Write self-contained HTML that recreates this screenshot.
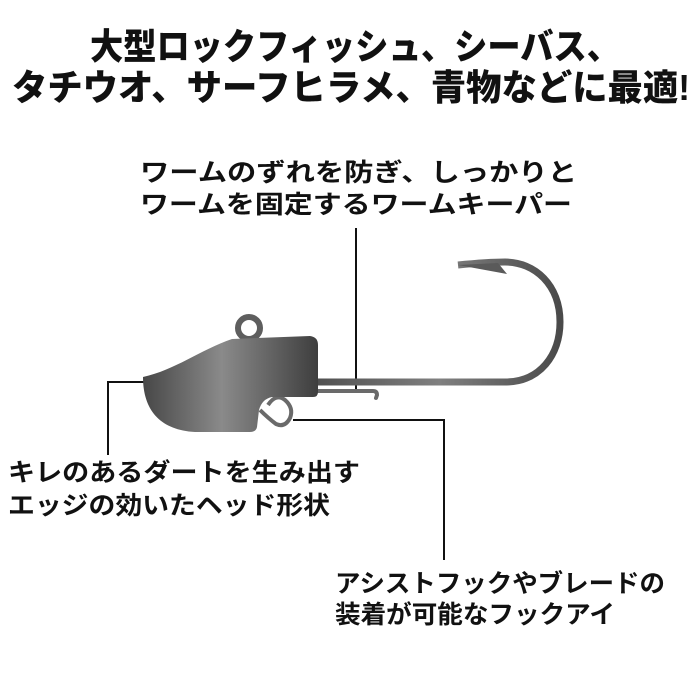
<!DOCTYPE html>
<html><head><meta charset="utf-8"><style>
html,body{margin:0;padding:0;background:#fff;}
svg{display:block;}
text{font-family:"Liberation Sans","Noto Sans CJK JP",sans-serif;fill:#111;}
</style></head><body>
<svg width="700" height="700" viewBox="0 0 700 700" xmlns="http://www.w3.org/2000/svg">
<defs>
<linearGradient id="g" x1="0" x2="1" y1="0" y2="0">
<stop offset="0" stop-color="#474747"/><stop offset="0.45" stop-color="#8a8a8a"/><stop offset="1" stop-color="#3e3e3e"/>
</linearGradient>
<linearGradient id="h" x1="0" x2="1" y1="0" y2="0">
<stop offset="0" stop-color="#505050"/><stop offset="0.5" stop-color="#808080"/><stop offset="1" stop-color="#4a4a4a"/>
</linearGradient>
</defs>
<text x="90" y="59" font-size="36" font-weight="900" textLength="530" lengthAdjust="spacingAndGlyphs">大型ロックフィッシュ、シーバス、</text>
<text x="12" y="100" font-size="36" font-weight="900" textLength="678" lengthAdjust="spacingAndGlyphs">タチウオ、サーフヒラメ、青物などに最適!</text>
<text x="140" y="181" font-size="25" font-weight="700" textLength="437" lengthAdjust="spacingAndGlyphs">ワームのずれを防ぎ、しっかりと</text>
<text x="140" y="213" font-size="25" font-weight="700" textLength="432" lengthAdjust="spacingAndGlyphs">ワームを固定するワームキーパー</text>
<text x="8" y="481" font-size="25" font-weight="700" textLength="352" lengthAdjust="spacingAndGlyphs">キレのあるダートを生み出す</text>
<text x="8" y="514" font-size="25" font-weight="700" textLength="322" lengthAdjust="spacingAndGlyphs">エッジの効いたヘッド形状</text>
<text x="335" y="592" font-size="25" font-weight="700" textLength="330" lengthAdjust="spacingAndGlyphs">アシストフックやブレードの</text>
<text x="335" y="623" font-size="25" font-weight="700" textLength="280" lengthAdjust="spacingAndGlyphs">装着が可能なフックアイ</text>

<path d="M356,228 L356,391" stroke="#111" stroke-width="2" fill="none"/>
<path d="M146,382 L108,382 L108,455" stroke="#111" stroke-width="2" fill="none"/>
<path d="M293,420 L444,420 L444,560" stroke="#111" stroke-width="2" fill="none"/>

<path d="M318,382 L505,382 C540,382 560,355 560,322 C560,285 535,262 505,262 C490,262 478,263 458,265" stroke="url(#h)" stroke-width="7" fill="none"/>
<path d="M458,265 L507,274 L498,263 Z" fill="#5a5a5a"/>
<path d="M318,391 L373,391 Q377,391 377,395 L376,398" stroke="#6a6a6a" stroke-width="4" fill="none" stroke-linecap="round"/>
<circle cx="249" cy="328" r="11" stroke="#5e5e5e" stroke-width="6" fill="none"/>
<path d="M268,405 Q276,393 285,400 Q294,408 290,418 Q285,428 276,424 Q268,418 260,410" stroke="#6a6a6a" stroke-width="4" fill="none"/>
<path d="M143,377 C175,370 200,350 232,339 L310,336 Q318,337 318,345 L318,392 Q318,397 313,397 L272,397 Q262,399 259,410 L257,427 Q256,432 250,432 L195,432 C160,430 143,410 143,377 Z" fill="url(#g)"/>
</svg>
</body></html>
